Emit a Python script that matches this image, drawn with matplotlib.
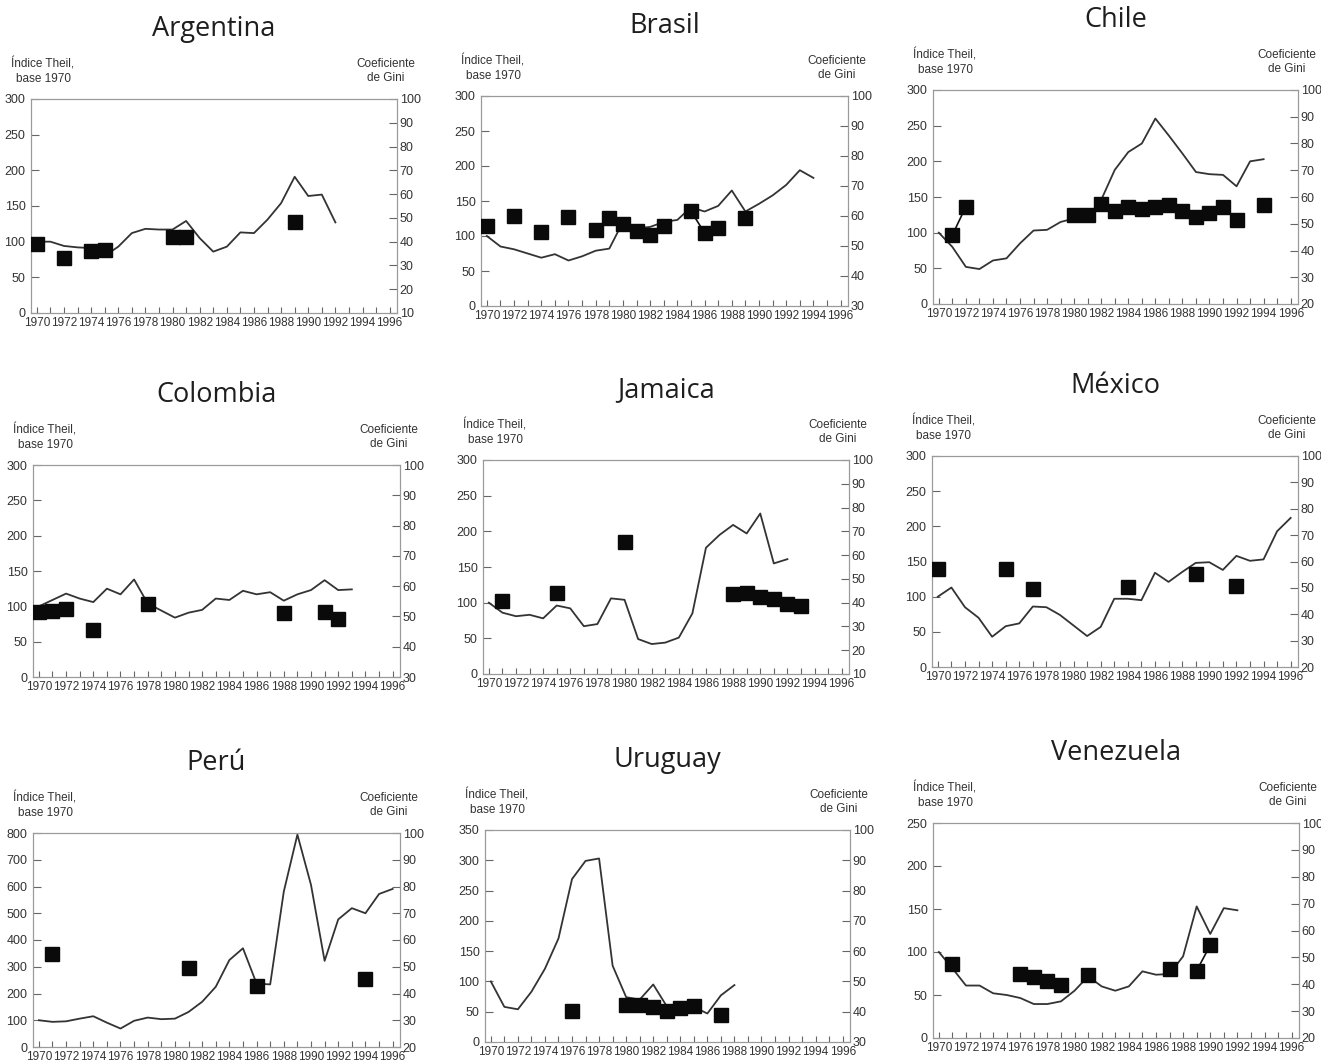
import numpy as np
import pandas as pd
import matplotlib
matplotlib.use('Agg')
import matplotlib.pyplot as plt

countries = ['Argentina', 'Brasil', 'Chile', 'Colombia', 'Jamaica',
             'México', 'Perú', 'Uruguay', 'Venezuela']

# Índice Theil (base 1970 = 100), one value per year starting in 1970
argentina_theil = [100, 100, 94, 92, 91, 80, 93, 112, 118, 117, 117, 129, 105, 86, 93,
                   113, 112, 131, 154, 191, 164, 166, 127]
brasil_theil = [100, 85, 81, 75, 69, 74, 65, 71, 79, 82, 120, 111, 113, 120, 123, 141,
                135, 143, 165, 135, 146, 158, 173, 194, 183]
chile_theil = [100, 80, 52, 49, 61, 64, 85, 103, 104, 115, 120, 122, 146, 188, 213, 225,
               260, 236, 211, 185, 182, 181, 165, 200, 203]
colombia_theil = [100, 109, 118, 111, 106, 125, 117, 138, 104, 94, 84, 91, 95, 111, 109,
                  122, 117, 120, 108, 117, 123, 137, 123, 124]
jamaica_theil = [100, 86, 81, 83, 78, 96, 92, 67, 70, 106, 104, 49, 42, 44, 51, 85, 177,
                 195, 209, 197, 225, 155, 161]
mexico_theil = [100, 113, 85, 70, 43, 58, 62, 86, 85, 74, 59, 44, 57, 97, 97, 95, 134,
                121, 135, 148, 149, 138, 158, 151, 153, 193, 212]
peru_theil = [100, 94, 96, 106, 115, 91, 69, 98, 110, 104, 106, 131, 169, 225, 325, 369,
              237, 234, 581, 794, 606, 322, 477, 519, 500, 572, 591]
uruguay_theil = [100, 58, 54, 83, 121, 171, 269, 299, 303, 126, 74, 70, 95, 59, 58, 58,
                 47, 77, 94]
venezuela_theil = [100, 81, 61, 61, 52, 50, 46.5, 39.5, 39.5, 42.6, 55, 71.7, 60, 55, 60,
                   77.5, 73.6, 74.4, 95, 153, 121, 151, 148.5]

# Coeficiente de Gini
argentina_gini_years = [1970, 1972, 1974, 1975, 1980, 1981, 1989]
argentina_gini = [39.0, 33.0, 36.0, 36.4, 41.8, 42.1, 48.1]
brasil_gini_years = [1970, 1972, 1974, 1976, 1978, 1979, 1980, 1981, 1982, 1983, 1985,
                     1986, 1987, 1989]
brasil_gini = [56.6, 60.1, 54.7, 59.7, 55.3, 59.2, 57.3, 55.1, 53.6, 56.6, 61.6, 54.4,
               56.0, 59.5]
chile_gini_years = [1971, 1972, 1980, 1981, 1982, 1983, 1984, 1985, 1986, 1987, 1988,
                    1989, 1990, 1991, 1992, 1994]
chile_gini = [45.8, 56.4, 53.3, 53.3, 57.4, 54.9, 56.1, 55.4, 56.1, 57.0, 54.9, 52.4,
              54.1, 56.4, 51.4, 57.0]
colombia_gini_years = [1970, 1971, 1972, 1974, 1978, 1988, 1991, 1992]
colombia_gini = [51.5, 51.7, 52.6, 45.4, 54.2, 51.2, 51.5, 49.3]
jamaica_gini_years = [1971, 1975, 1980, 1988, 1989, 1990, 1991, 1992, 1993]
jamaica_gini = [40.8, 44.2, 65.7, 43.5, 43.9, 42.2, 41.7, 39.3, 38.7]
mexico_gini_years = [1970, 1975, 1977, 1984, 1989, 1992]
mexico_gini = [57.0, 57.3, 49.4, 50.4, 55.4, 50.7]
peru_gini_years = [1971, 1981, 1986, 1994]
peru_gini = [54.8, 49.4, 42.9, 45.4]
uruguay_gini_years = [1976, 1980, 1981, 1982, 1983, 1984, 1985, 1987]
uruguay_gini = [40.1, 42.3, 42.3, 41.6, 40.3, 41.2, 41.9, 38.8]
venezuela_gini_years = [1971, 1976, 1977, 1978, 1979, 1981, 1987, 1989, 1990]
venezuela_gini = [47.5, 43.8, 42.6, 41.1, 39.8, 43.3, 45.7, 45.1, 54.5]

theil_max = [300, 300, 300, 300, 300, 300, 800, 350, 250]
theil_step = [50, 50, 50, 50, 50, 50, 100, 50, 50]
gini_min = [10, 30, 20, 30, 10, 20, 20, 30, 20]

theil = [argentina_theil, brasil_theil, chile_theil, colombia_theil, jamaica_theil,
         mexico_theil, peru_theil, uruguay_theil, venezuela_theil]
gini_years = [argentina_gini_years, brasil_gini_years, chile_gini_years,
              colombia_gini_years, jamaica_gini_years, mexico_gini_years,
              peru_gini_years, uruguay_gini_years, venezuela_gini_years]
gini = [argentina_gini, brasil_gini, chile_gini, colombia_gini, jamaica_gini,
        mexico_gini, peru_gini, uruguay_gini, venezuela_gini]

# panel boxes in pixels: left, top, right, bottom
boxes = [(31, 99, 397, 313), (481, 96, 848, 306), (933, 90, 1298, 304),
         (33, 465, 400, 677), (483, 460, 849, 674), (932, 456, 1298, 667),
         (33, 833, 400, 1047), (485, 830, 850, 1042), (933, 823, 1299, 1038)]

plt.rcParams['font.family'] = ['Liberation Sans Narrow', 'Liberation Sans', 'DejaVu Sans']
W, H = 1321, 1063
fig = plt.figure(figsize=(W / 100, H / 100), dpi=100)
spine_color = '#9a9a9a'
text_color = '#333333'

for i, name in enumerate(countries):
    l, t, r, b = boxes[i]
    ax = fig.add_axes([l / W, 1 - b / H, (r - l) / W, (b - t) / H])
    years = np.arange(1970, 1970 + len(theil[i]))
    ax.plot(years, theil[i], color='#333333', lw=1.3, zorder=2)
    ax.set_xlim(1969.57, 1996.54)
    ax.set_ylim(0, theil_max[i])
    ax.set_yticks(np.arange(0, theil_max[i] + 1, theil_step[i]))
    ax.set_xticks(range(1970, 1997, 2))
    ax.set_xticks(range(1971, 1997, 2), minor=True)
    ax.tick_params(axis='x', which='both', direction='in', length=4, width=0.8,
                   color='#666666', labelsize=8.5, labelcolor=text_color, pad=3)
    ax.tick_params(axis='y', direction='in', length=6, width=0.8, color='#666666',
                   labelsize=9, labelcolor=text_color, pad=4)

    ax2 = ax.twinx()
    g = pd.Series(gini[i], index=gini_years[i]).reindex(range(1970, 1997))
    ax2.plot(g.index, g.values, color='#111111', lw=1.2, marker='s', ms=9.5,
             mfc='#0a0a0a', mec='#0a0a0a', zorder=3)
    ax2.set_ylim(gini_min[i], 100)
    ax2.set_yticks(range(gini_min[i], 101, 10))
    ax2.tick_params(axis='y', direction='in', length=6, width=0.8, color='#666666',
                    labelsize=9, labelcolor=text_color, pad=2)

    for a in (ax, ax2):
        for s in a.spines.values():
            s.set_color(spine_color)
            s.set_linewidth(0.8)

    ax.annotate(name, xy=(0.5, 1), xycoords='axes fraction', xytext=(0, 70 * 0.72),
                textcoords='offset points', ha='center', va='center', fontsize=19.5,
                family=['Open Sans', 'DejaVu Sans'], fontweight='medium',
                color='#1e1e1e')
    ax.annotate('Índice Theil,\nbase 1970', xy=(0, 1), xycoords='axes fraction',
                xytext=(12 * 0.72, 28 * 0.72), textcoords='offset points',
                ha='center', va='center', fontsize=8.5, linespacing=1.3, color=text_color)
    ax.annotate('Coeficiente\nde Gini', xy=(1, 1), xycoords='axes fraction',
                xytext=(-11 * 0.72, 28 * 0.72), textcoords='offset points',
                ha='center', va='center', fontsize=8.5, linespacing=1.3, color=text_color)

fig.savefig('out.png', dpi=100)
